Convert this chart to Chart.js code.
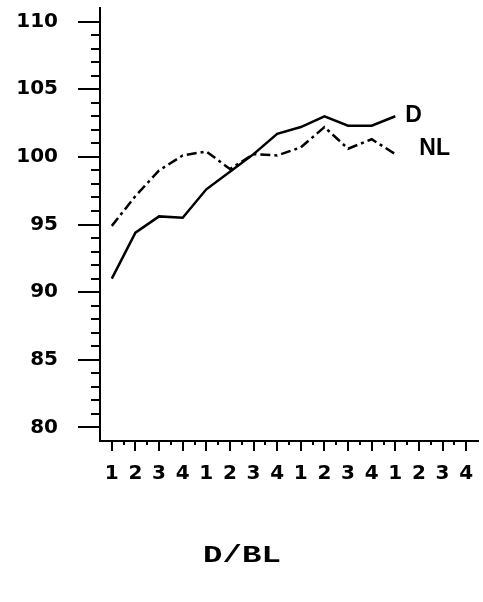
<!DOCTYPE html>
<html>
<head>
<meta charset="utf-8">
<script src="https://cdn.jsdelivr.net/npm/chart.js@4"></script>
<style>
  body { margin: 0; background: #fff; }
</style>
</head>
<body>
<canvas id="lineChart" width="483" height="602"></canvas>
<script>
// quarters 1-4 over four years
const xLabels = ['1', '2', '3', '4', '1', '2', '3', '4', '1', '2', '3', '4', '1', '2', '3', '4'];
const dValues = [91.0, 94.4, 95.6, 95.5, 97.6, 98.9, 100.2, 101.7, 102.2, 103.0, 102.3, 102.3, 103.0];
const nlValues = [94.9, 97.1, 99.0, 100.1, 100.4, 99.1, 100.2, 100.1, 100.7, 102.2, 100.6, 101.3, 100.2];
const yMajorTicks = [80, 85, 90, 95, 100, 105, 110];
const xTitle = 'D/BL';

const tickFont = { family: 'DejaVu Sans', weight: 'bold', size: 20 };

// draws the plotter-style tick marks, series labels and axis title
const decorations = {
  id: 'decorations',
  afterDatasetsDraw(chart) {
    const ctx = chart.ctx;
    const xs = chart.scales.x;
    const ys = chart.scales.y;
    const area = chart.chartArea;
    ctx.save();
    ctx.strokeStyle = '#000';
    ctx.lineWidth = 2;
    ctx.beginPath();
    for (let v = yMajorTicks[0]; v <= yMajorTicks[yMajorTicks.length - 1]; v++) {
      const y = Math.round(ys.getPixelForValue(v));
      const len = yMajorTicks.includes(v) ? 22 : 9;
      ctx.moveTo(area.left - len, y);
      ctx.lineTo(area.left, y);
    }
    for (let i = 0; i < xLabels.length; i++) {
      const x = Math.round(xs.getPixelForValue(i));
      ctx.moveTo(x, area.bottom);
      ctx.lineTo(x, area.bottom + 10);
      if (i < xLabels.length - 1) {
        const xm = Math.round((xs.getPixelForValue(i) + xs.getPixelForValue(i + 1)) / 2);
        ctx.moveTo(xm, area.bottom);
        ctx.lineTo(xm, area.bottom + 4);
      }
    }
    ctx.stroke();

    // series names next to the last point
    ctx.fillStyle = '#000';
    ctx.font = 'bold 23px "Liberation Sans"';
    ctx.textBaseline = 'middle';
    ctx.textAlign = 'left';
    chart.data.datasets.forEach((ds, i) => {
      const pts = chart.getDatasetMeta(i).data;
      const last = pts[pts.length - 1];
      ctx.fillText(ds.label, last.x + ds.labelDx, last.y + ds.labelDy);
    });

    // axis title
    ctx.font = 'bold 24px "Liberation Mono"';
    ctx.textAlign = 'center';
    ctx.translate(242, 556);
    ctx.scale(1.35, 1);
    ctx.fillText(xTitle, 0, 0);
    ctx.restore();
  }
};

const ctx = document.getElementById('lineChart').getContext('2d');
new Chart(ctx, {
  type: 'line',
  data: {
    labels: xLabels,
    datasets: [{
      label: 'D',
      data: dValues,
      borderColor: '#000',
      borderWidth: 2.5,
      pointRadius: 0,
      tension: 0,
      labelDx: 10,
      labelDy: -1
    }, {
      label: 'NL',
      data: nlValues,
      borderColor: '#000',
      borderWidth: 2.5,
      borderDash: [10, 4, 3, 4],
      pointRadius: 0,
      tension: 0,
      labelDx: 24,
      labelDy: -5
    }]
  },
  options: {
    responsive: false,
    animation: false,
    devicePixelRatio: 1,
    layout: { padding: { top: 8, right: 5, left: 0, bottom: 0 } },
    plugins: {
      legend: { display: false },
      tooltip: { enabled: false }
    },
    scales: {
      x: {
        offset: true,
        grid: { display: false, drawTicks: false },
        border: { display: true, color: '#000', width: 2 },
        ticks: { color: '#000', font: tickFont, padding: 21, maxRotation: 0, autoSkip: false },
        afterFit(scale) {
          scale.height = 161;
          scale.paddingLeft = 0;
          scale.paddingRight = 0;
        }
      },
      y: {
        min: 79,
        max: 111,
        grid: { display: false, drawTicks: false },
        border: { display: true, color: '#000', width: 2 },
        afterBuildTicks(scale) { scale.ticks = yMajorTicks.map(v => ({ value: v })); },
        ticks: { color: '#000', font: tickFont, padding: 42, autoSkip: false },
        afterFit(scale) {
          scale.width = 100;
          scale.paddingTop = 0;
          scale.paddingBottom = 0;
        }
      }
    }
  },
  plugins: [decorations]
});
</script>
</body>
</html>
